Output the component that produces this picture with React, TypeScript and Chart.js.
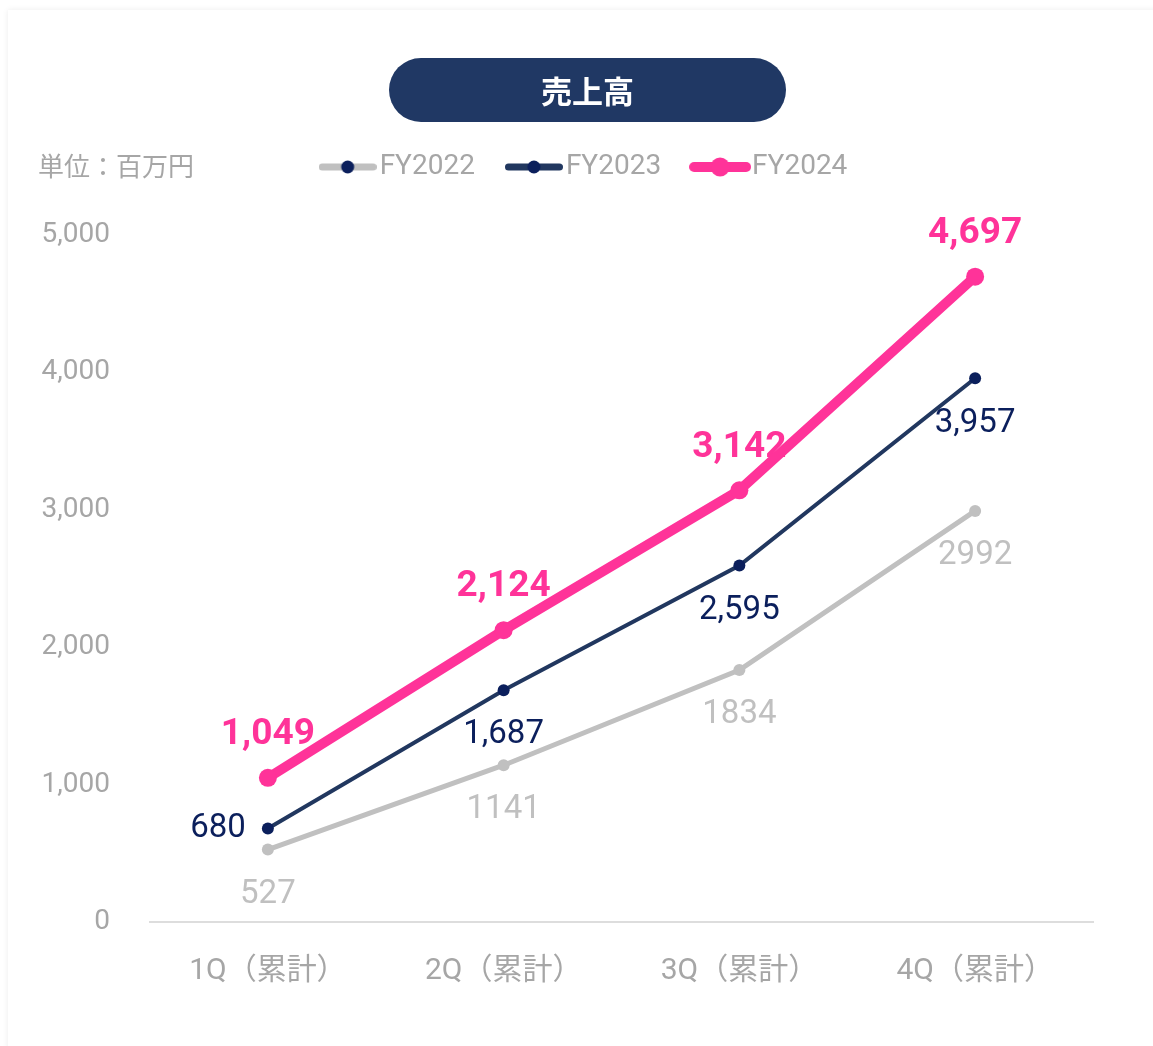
import React, { useEffect, useRef } from 'react';
import { Chart, registerables } from 'chart.js';

Chart.register(...registerables);

// ---------- data ----------
const categories = ['1Q（累計）', '2Q（累計）', '3Q（累計）', '4Q（累計）'];
const seriesNames = ['FY2022', 'FY2023', 'FY2024'];
const fy2022 = [527, 1141, 1834, 2992];
const fy2023 = [680, 1687, 2595, 3957];
const fy2024 = [1049, 2124, 3142, 4697];
const yMin = 0;
const yMax = 5000;
const yStep = 1000;
const titleText = '売上高';
const unitText = '単位：百万円';

// ---------- styles ----------
const FONT = 'Roboto, "Noto Sans CJK JP", sans-serif';
const JP_FONT = '"Noto Sans CJK JP", Roboto, sans-serif';
const GRAY_TEXT = '#a6a6a6';
const C22 = '#c0c0c0';
const C23_LINE = '#21375f';
const C23_DOT = '#0b1f5c';
const C23_TEXT = '#0b1f5c';
const C24 = '#ff3399';
const NAVY_PILL = '#203864';

const CANVAS_W = 1161;
const CANVAS_H = 1036;

function makeIcon(w: number, h: number, lineColor: string, lineW: number, dotColor: string, dotR: number) {
  const c = document.createElement('canvas');
  c.width = w;
  c.height = h;
  const g = c.getContext('2d')!;
  g.strokeStyle = lineColor;
  g.lineWidth = lineW;
  g.lineCap = 'round';
  g.beginPath();
  g.moveTo(lineW / 2, h / 2);
  g.lineTo(w - lineW / 2, h / 2);
  g.stroke();
  g.fillStyle = dotColor;
  g.beginPath();
  g.arc(w / 2, h / 2, dotR, 0, Math.PI * 2);
  g.fill();
  return c;
}

type LabelCfg = {
  color: string;
  font: string;
  fmt: (v: number) => string;
  place: string[];
};

const labelCfgs: LabelCfg[] = [
  { color: C22, font: `400 33px ${FONT}`, fmt: (v) => String(v), place: ['below', 'below', 'below', 'below'] },
  { color: C23_TEXT, font: `400 33px ${FONT}`, fmt: (v) => v.toLocaleString('en-US'), place: ['left', 'below', 'below', 'below'] },
  { color: C24, font: `700 37px ${FONT}`, fmt: (v) => v.toLocaleString('en-US'), place: ['above', 'above', 'above', 'above'] },
];

const valueLabelPlugin = {
  id: 'valueLabels',
  beforeDatasetsDraw(chart: any) {
    const ctx = chart.ctx;
    ctx.save();
    chart.data.datasets.forEach((ds: any, di: number) => {
      const meta = chart.getDatasetMeta(di);
      const cfg = labelCfgs[di];
      meta.data.forEach((pt: any, i: number) => {
        const text = cfg.fmt(ds.data[i]);
        ctx.font = cfg.font;
        ctx.fillStyle = cfg.color;
        ctx.textBaseline = 'middle';
        const p = cfg.place[i];
        if (p === 'left') {
          ctx.textAlign = 'right';
          ctx.fillText(text, pt.x - 22, pt.y);
        } else if (p === 'above') {
          ctx.textAlign = 'center';
          ctx.fillText(text, pt.x, pt.y - 43);
        } else {
          ctx.textAlign = 'center';
          ctx.fillText(text, pt.x, pt.y + 45);
        }
      });
    });
    ctx.restore();
  },
};

export default function App() {
  const ref = useRef<HTMLCanvasElement | null>(null);

  useEffect(() => {
    if (!ref.current) return;
    const icons = [
      makeIcon(58, 22, C22, 7, C23_DOT, 6.5),
      makeIcon(58, 22, C23_LINE, 7, C23_DOT, 6.5),
      makeIcon(62, 22, C24, 10, C24, 9.5),
    ];
    const chart = new Chart(ref.current, {
      type: 'line',
      data: {
        labels: categories,
        datasets: [
          {
            label: seriesNames[0],
            data: fy2022,
            borderColor: C22,
            backgroundColor: C22,
            borderWidth: 5,
            pointRadius: 6,
            pointBackgroundColor: C22,
            pointBorderWidth: 0,
            tension: 0,
            order: 2,
            clip: false as any,
          },
          {
            label: seriesNames[1],
            data: fy2023,
            borderColor: C23_LINE,
            backgroundColor: C23_DOT,
            borderWidth: 4,
            pointRadius: 6,
            pointBackgroundColor: C23_DOT,
            pointBorderWidth: 0,
            tension: 0,
            order: 1,
            clip: false as any,
          },
          {
            label: seriesNames[2],
            data: fy2024,
            borderColor: C24,
            backgroundColor: C24,
            borderWidth: 10,
            pointRadius: 9,
            pointBackgroundColor: C24,
            pointBorderWidth: 0,
            tension: 0,
            order: 0,
            clip: false as any,
          },
        ],
      },
      options: {
        animation: false,
        responsive: false,
        devicePixelRatio: 1,
        layout: { padding: { top: 102, left: 0, right: 0, bottom: 0 } },
        plugins: {
          tooltip: { enabled: false },
          title: { display: false },
          subtitle: {
            display: true,
            text: ' ',
            position: 'top',
            weight: 500,
            font: { size: 10, lineHeight: 1.2 },
            padding: { top: 32, bottom: 0 },
          } as any,
          legend: {
            display: true,
            position: 'top',
            align: 'center',
            weight: 1000,
            labels: {
              usePointStyle: true,
              pointStyleWidth: 36,
              padding: 41,
              color: GRAY_TEXT,
              font: { family: FONT, size: 28 },
              generateLabels: () =>
                seriesNames.map((name, i) => ({
                  text: name,
                  pointStyle: icons[i] as any,
                  fillStyle: 'transparent',
                  strokeStyle: 'transparent',
                  lineWidth: 0,
                  fontColor: GRAY_TEXT,
                  hidden: false,
                  datasetIndex: i,
                })),
            },
          } as any,
        },
        scales: {
          x: {
            offset: true,
            grid: { display: false, drawTicks: false, tickLength: 0 },
            border: { display: true, color: '#dddddd', width: 2 },
            ticks: {
              color: GRAY_TEXT,
              font: { family: FONT, size: 30 },
              padding: 31,
              maxRotation: 0,
              autoSkip: false,
            },
            afterFit: (s: any) => {
              s.height = 124;
            },
          },
          y: {
            min: yMin,
            max: yMax,
            grid: { display: false, drawTicks: false, tickLength: 0 },
            border: { display: false },
            ticks: {
              stepSize: yStep,
              color: GRAY_TEXT,
              font: { family: FONT, size: 28 },
              padding: 40,
              callback: (v: any) => Number(v).toLocaleString('en-US'),
            },
            afterFit: (s: any) => {
              s.width = 142;
            },
          },
          // empty right-hand spacer axis (keeps the plot's right edge in place)
          yRight: {
            type: 'linear',
            position: 'right',
            display: true,
            grid: { display: false, drawTicks: false },
            border: { display: false },
            ticks: { display: false },
            afterFit: (s: any) => {
              s.width = 76;
            },
          },
        },
      } as any,
      plugins: [valueLabelPlugin],
    });
    return () => chart.destroy();
  }, []);

  return (
    <div
      style={{
        position: 'fixed',
        left: 8,
        top: 10,
        width: 1150,
        height: 1040,
        background: '#ffffff',
        boxShadow: '0 0 6px rgba(0,0,0,0.08)',
        overflow: 'visible',
      }}
    >
      <canvas
        ref={ref}
        width={CANVAS_W}
        height={CANVAS_H}
        style={{ position: 'absolute', left: 0, top: 0, width: CANVAS_W, height: CANVAS_H }}
      />
      <div
        style={{
          position: 'absolute',
          left: 381,
          top: 48,
          width: 397,
          height: 64,
          borderRadius: 32,
          background: NAVY_PILL,
          color: '#ffffff',
          fontFamily: JP_FONT,
          fontWeight: 700,
          fontSize: 31,
          lineHeight: '64px',
          textAlign: 'center',
        }}
      >
        {titleText}
      </div>
      <div
        style={{
          position: 'absolute',
          left: 30,
          top: 141,
          lineHeight: '28px',
          fontSize: 26,
          fontFamily: JP_FONT,
          color: GRAY_TEXT,
          whiteSpace: 'nowrap',
        }}
      >
        {unitText}
      </div>
    </div>
  );
}
